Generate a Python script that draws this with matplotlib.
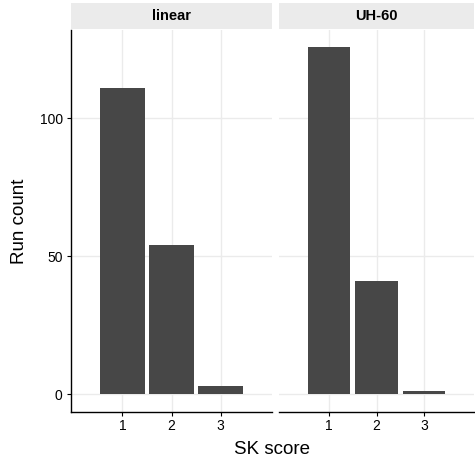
import matplotlib.pyplot as plt

plt.rcParams['font.family'] = ['Liberation Sans', 'DejaVu Sans']

panels = ["linear", "UH-60"]
scores = [1, 2, 3]
counts = {
    "linear": [111, 54, 3],
    "UH-60": [126, 41, 1],
}
yticks = [0, 50, 100]

fig = plt.figure(figsize=(4.75, 4.62), dpi=100)
W, H = 475.0, 462.0
boxes = [(71, 272), (279, 474)]
top, bottom = 30, 412

for k, (name, (x0, x1)) in enumerate(zip(panels, boxes)):
    ax = fig.add_axes([x0 / W, (H - bottom) / H, (x1 - x0) / W, (bottom - top) / H])
    ax.bar(scores, counts[name], width=0.9, color="#474747", zorder=3)
    ax.set_xlim(-0.05, 4.05)
    ax.set_ylim(-6.5, 132)
    ax.set_xticks(scores)
    ax.set_yticks(yticks)
    ax.grid(True, color="#ebebeb", linewidth=1.0, zorder=0)
    for s in ["top", "right"]:
        ax.spines[s].set_visible(False)
    ax.spines["bottom"].set_linewidth(1.0)
    ax.spines["left"].set_linewidth(1.0)
    ax.tick_params(axis="x", length=3, width=0.8, labelsize=10, colors="black", pad=2)
    ax.tick_params(axis="y", length=3, width=0.8, labelsize=10, colors="black", pad=3)
    if k == 1:
        ax.spines["left"].set_visible(False)
        ax.tick_params(axis="y", left=False, labelleft=False)
    # facet strip
    sax = fig.add_axes([x0 / W, (H - 29) / H, (x1 - x0) / W, 26 / H])
    sax.set_facecolor("#ebebeb")
    sax.set_xticks([])
    sax.set_yticks([])
    for s in sax.spines.values():
        s.set_visible(False)
    sax.text(0.5, 0.5, name, ha="center", va="center", fontsize=10.5,
             fontweight="bold", transform=sax.transAxes)

fig.text(71 / W + (474 - 71) / W / 2, (H - 449) / H, "SK score", ha="center", va="center", fontsize=13.5)
fig.text(19 / W, (H - (top + bottom) / 2) / H, "Run count", ha="center", va="center",
         rotation=90, fontsize=13.5)

fig.savefig("out.png", dpi=100)
